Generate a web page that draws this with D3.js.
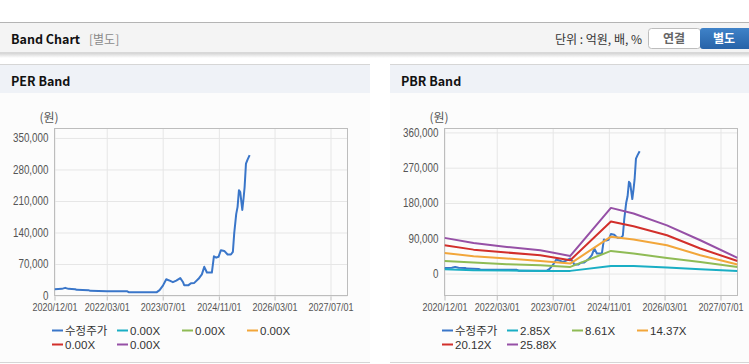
<!DOCTYPE html>
<html>
<head>
<meta charset="utf-8">
<script src="https://cdn.jsdelivr.net/npm/d3@7"></script>
<style>
  body { margin: 0; background: #fff; }
  svg { display: block; font-family: "Noto Sans CJK KR", "Liberation Sans", sans-serif; }
</style>
</head>
<body>
<svg id="chart" width="749" height="364"></svg>
<script>
// ---- data ----
var xTickDates = ["2020-12-01", "2022-03-01", "2023-07-01", "2024-11-01", "2026-03-01", "2027-07-01"];
var xDomainDates = ["2020-12-01", "2027-11-26"];

var perYTicks = [0, 70000, 140000, 210000, 280000, 350000];
var perYDomain = [0, 371000];
var pbrYTicks = [0, 90000, 180000, 270000, 360000];
var pbrYDomain = [-56000, 370000];

var priceDates = ["2020-12-01","2021-02-03","2021-03-04","2021-04-02","2021-05-30","2021-06-13","2021-09-23","2021-10-08",
  "2022-03-02","2022-08-23","2022-09-07","2022-12-17","2023-05-11","2023-06-04","2023-07-03","2023-08-01","2023-08-21",
  "2023-09-28","2023-10-27","2023-12-01","2023-12-24","2024-01-04","2024-02-11","2024-03-03","2024-04-01","2024-05-08",
  "2024-06-06","2024-06-27","2024-07-20","2024-09-01","2024-09-19","2024-10-09","2024-10-29","2024-11-19","2024-12-18",
  "2025-01-16","2025-02-14","2025-03-03","2025-03-15","2025-04-01","2025-04-13","2025-04-25","2025-05-06","2025-05-24",
  "2025-06-04","2025-06-13","2025-06-25","2025-07-09","2025-07-27"];
var priceValues = [14100,14800,17000,14800,14000,12600,11900,10400,9600,9600,7400,7400,7400,11900,22000,36000,34000,
  29600,33000,38500,30000,23000,23000,27400,28000,37000,47000,63700,51000,51000,87000,84000,86000,100700,99000,
  91000,91000,97000,139000,180700,197000,234000,230000,190000,215500,240000,293000,302000,312000];

var bandDates = ["2020-12-01","2021-08-11","2022-05-28","2023-03-15","2023-12-01","2024-11-19","2025-06-04","2026-03-22","2027-01-06","2027-11-26"];
var pbr285  = [11000, 8400, 7600, 6500, 6800, 19400, 19400, 15300, 11000, 6600];
var pbr861  = [32000, 28000, 23700, 21000, 17000, 57700, 51000, 39800, 29600, 16900];
var pbr1437 = [52600, 44000, 38300, 32000, 25500, 94000, 86800, 72200, 46700, 23000];
var pbr2012 = [72000, 61000, 53600, 46700, 34000, 133000, 120700, 97800, 63800, 32000];
var pbr2588 = [91000, 78000, 68000, 59500, 45000, 167500, 153000, 123000, 85000, 40000];

var perLegend = ["수정주가", "0.00X", "0.00X", "0.00X", "0.00X", "0.00X"];
var pbrLegend = ["수정주가", "2.85X", "8.61X", "14.37X", "20.12X", "25.88X"];
var colors = ["#3a76c9", "#1aaec4", "#8fbb55", "#f2a63a", "#d22f2b", "#9650a6"];

// ---- drawing ----
var parse = d3.timeParse("%Y-%m-%d");
var svg = d3.select("#chart");
var tickFont = '"Liberation Sans", Arial, sans-serif';
var squeeze = 0.82;   // tick labels in the original are a narrow face

// top header bar
var shadow = svg.append("defs").append("linearGradient")
    .attr("id", "shadow").attr("x1", 0).attr("y1", 0).attr("x2", 0).attr("y2", 1);
shadow.append("stop").attr("offset", "0%").attr("stop-color", "#d4d4d4");
shadow.append("stop").attr("offset", "100%").attr("stop-color", "#ffffff");
var blue = svg.select("defs").append("linearGradient")
    .attr("id", "btnBlue").attr("x1", 0).attr("y1", 0).attr("x2", 0).attr("y2", 1);
blue.append("stop").attr("offset", "0%").attr("stop-color", "#3f82c8");
blue.append("stop").attr("offset", "100%").attr("stop-color", "#2763a8");

svg.append("rect").attr("x", 0).attr("y", 53).attr("width", 749).attr("height", 5).attr("fill", "url(#shadow)");
svg.append("rect").attr("x", 0).attr("y", 22).attr("width", 749).attr("height", 31).attr("fill", "#f4f4f4");
svg.append("line").attr("x1", 0).attr("x2", 749).attr("y1", 22.5).attr("y2", 22.5).attr("stroke", "#b4b4b4");
svg.append("line").attr("x1", 0).attr("x2", 749).attr("y1", 52.5).attr("y2", 52.5).attr("stroke", "#d8d8d8");

svg.append("text").attr("x", 11).attr("y", 44).attr("font-size", 12.5).attr("font-weight", "bold")
    .attr("fill", "#111").text("Band Chart");
svg.append("text").attr("x", 89).attr("y", 44).attr("font-size", 12).attr("fill", "#8a8a8a").text("[별도]");
svg.append("text").attr("x", 642).attr("y", 44).attr("font-size", 12).attr("fill", "#333")
    .attr("text-anchor", "end").text("단위 : 억원, 배, %");

svg.append("rect").attr("x", 648.5).attr("y", 28.5).attr("width", 52).attr("height", 20).attr("rx", 3)
    .attr("fill", "#fff").attr("stroke", "#bdbdbd");
svg.append("text").attr("x", 674).attr("y", 43).attr("font-size", 12).attr("font-weight", "bold")
    .attr("fill", "#666").attr("text-anchor", "middle").text("연결");
svg.append("rect").attr("x", 700).attr("y", 28).attr("width", 52).attr("height", 21).attr("rx", 3)
    .attr("fill", "url(#btnBlue)");
svg.append("text").attr("x", 724).attr("y", 43).attr("font-size", 12).attr("font-weight", "bold")
    .attr("fill", "#fff").attr("text-anchor", "middle").text("별도");

function drawPanel(x0, x1, title) {
    svg.append("rect").attr("x", x0).attr("y", 93).attr("width", x1 - x0).attr("height", 270).attr("fill", "#fcfcfc");
    svg.append("rect").attr("x", x0).attr("y", 64).attr("width", x1 - x0).attr("height", 29).attr("fill", "#eff2f7");
    svg.append("line").attr("x1", x0).attr("x2", x1).attr("y1", 64.5).attr("y2", 64.5).attr("stroke", "#d6d6d6");
    svg.append("line").attr("x1", x0).attr("x2", x1).attr("y1", 362.5).attr("y2", 362.5).attr("stroke", "#d6d6d6");
    svg.append("text").attr("x", x0 + 11).attr("y", 86).attr("font-size", 12.5).attr("font-weight", "bold")
        .attr("fill", "#111").text(title);
}

function drawChart(cfg) {
    var top = 128.5, bottom = 295.5, width = 293;
    var g = svg.append("g");
    var x = d3.scaleTime().domain(xDomainDates.map(parse)).range([cfg.left, cfg.left + width]);
    var y = d3.scaleLinear().domain(cfg.yDomain).range([bottom, top]);

    g.append("g")
        .attr("transform", `translate(0,${bottom})`)
        .call(d3.axisBottom(x).tickValues(xTickDates.map(parse)).tickSize(-(bottom - top))
            .tickFormat(d3.timeFormat("%Y/%m/%d")))
        .call(a => {
            a.select(".domain").remove();
            a.selectAll(".tick line").attr("stroke", "#e6e6e6");
            a.selectAll(".tick").append("line").attr("y1", 0).attr("y2", 5).attr("stroke", "#bdbdbd");
            a.selectAll("text").attr("y", 16).attr("dy", 0).attr("fill", "#555")
                .attr("font-size", 11).attr("font-family", tickFont)
                .attr("transform", `scale(${squeeze},1)`);
        });

    g.append("g")
        .attr("transform", `translate(${cfg.left},0)`)
        .call(d3.axisLeft(y).tickValues(cfg.yTicks).tickSize(-width).tickFormat(d3.format(",")))
        .call(a => {
            a.select(".domain").remove();
            a.selectAll(".tick line").attr("stroke", "#e6e6e6");
            a.selectAll("text").attr("x", -6 / squeeze).attr("fill", "#555")
                .attr("font-size", 12).attr("font-family", tickFont)
                .attr("transform", `scale(${squeeze},1)`);
        });

    g.append("rect").attr("x", cfg.left).attr("y", top).attr("width", width).attr("height", bottom - top)
        .attr("fill", "none").attr("stroke", "#bdbdbd");

    g.append("text").attr("x", cfg.left - 15).attr("y", 122).attr("font-size", 12).attr("fill", "#555").text("(원)");

    var clipId = "clip" + Math.round(cfg.left);
    g.append("clipPath").attr("id", clipId).append("rect")
        .attr("x", cfg.left).attr("y", top).attr("width", width).attr("height", bottom - top);

    var line = d3.line().x(d => x(d[0])).y(d => y(d[1]));
    var lines = g.append("g").attr("clip-path", `url(#${clipId})`);
    cfg.series.forEach(function(s, i) {
        if (!s) return;
        var pts = s.dates.map((d, j) => [parse(d), s.values[j]]);
        lines.append("path").datum(pts).attr("d", line)
            .attr("fill", "none").attr("stroke", colors[i]).attr("stroke-width", 2)
            .attr("stroke-linejoin", "round");
    });

    var legend = g.append("g");
    var items = legend.selectAll("g").data(cfg.legend).enter().append("g")
        .attr("transform", (d, i) => `translate(${cfg.legendX + (i % 4) * 65},${330.5 + Math.floor(i / 4) * 14})`);
    items.append("line").attr("x1", 0).attr("x2", 11).attr("stroke", (d, i) => colors[i]).attr("stroke-width", 2);
    items.append("text").attr("x", 13).attr("dy", "0.36em").attr("font-size", 11.5)
        .attr("font-family", '"Liberation Sans", "Noto Sans CJK KR", sans-serif')
        .attr("fill", "#333").text(d => d);
}

drawPanel(0, 370, "PER Band");
drawPanel(390, 749, "PBR Band");

drawChart({
    left: 54.5, yDomain: perYDomain, yTicks: perYTicks, legend: perLegend, legendX: 52,
    series: [{ dates: priceDates, values: priceValues }]
});

drawChart({
    left: 444.5, yDomain: pbrYDomain, yTicks: pbrYTicks, legend: pbrLegend, legendX: 442,
    series: [
        { dates: priceDates, values: priceValues },
        { dates: bandDates, values: pbr285 },
        { dates: bandDates, values: pbr861 },
        { dates: bandDates, values: pbr1437 },
        { dates: bandDates, values: pbr2012 },
        { dates: bandDates, values: pbr2588 }
    ]
});
</script>
</body>
</html>
